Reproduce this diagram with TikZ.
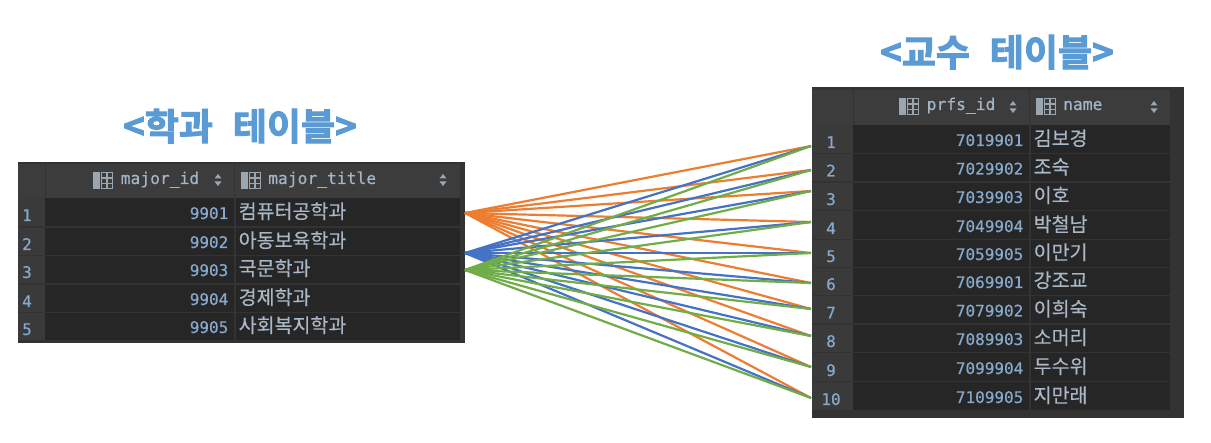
\documentclass[tikz,border=0pt]{standalone}
\usepackage{fontspec}
\setmainfont{Noto Sans CJK KR}
\newfontfamily\krfont[FakeBold=0.25]{Noto Sans CJK KR}
\newfontfamily\krbold[FakeBold=2.6]{Noto Sans CJK KR Bold}
\newfontfamily\monof[FakeBold=0.5]{DejaVu Sans Mono}
\definecolor{tblbg}{HTML}{333333}
\definecolor{hdrbg}{HTML}{3C3C3C}
\definecolor{gutbg}{HTML}{3A3A3A}
\definecolor{cellbg}{HTML}{262626}
\definecolor{idtxt}{HTML}{86A9CC}
\definecolor{krtxt}{HTML}{A9B7C6}
\definecolor{icon}{HTML}{9AA7B0}
\definecolor{titleblue}{HTML}{5B9BD5}
\definecolor{linkorange}{HTML}{ED7D31}
\definecolor{linkblue}{HTML}{4472C4}
\definecolor{linkgreen}{HTML}{70AD47}
\tikzset{
  idtext/.style={inner sep=0pt,anchor=base east,text=idtxt,font=\monof\fontsize{16}{16}\selectfont},
  numtext/.style={inner sep=0pt,anchor=base,text=idtxt,font=\monof\fontsize{16}{16}\selectfont},
  hdrtext/.style={inner sep=0pt,anchor=base west,text=krtxt!85!idtxt,font=\monof\fontsize{16.3}{16}\selectfont},
  krtext/.style={inner sep=0pt,anchor=base west,text=krtxt,font=\krfont\fontsize{19.5}{20}\selectfont},
  titletext/.style={inner sep=0pt,anchor=base,text=titleblue,font=\krbold\fontsize{37}{38}\selectfont},
  link/.style={line width=2.2pt},
  pt/.style={inner sep=0pt,minimum size=0pt}
}
% icon: x left, y top
\newcommand{\tblicon}[2]{%
  \fill[icon] (#1,#2) rectangle ++(7,17);
  \draw[icon,line width=1.2pt] (#1+8.5,#2+.6) rectangle ++(11,15.8)
     (#1+8.5,#2+6) -- ++(11,0) (#1+8.5,#2+11.5) -- ++(11,0) (#1+14,#2+.6) -- ++(0,15.8);
}
\newcommand{\sorticon}[2]{%
  \fill[icon] (#1-3.5,#2-1.5) -- (#1+3.5,#2-1.5) -- (#1,#2-6) -- cycle;
  \fill[icon] (#1-3.5,#2+1.5) -- (#1+3.5,#2+1.5) -- (#1,#2+6) -- cycle;
}
\newcommand{\dbrow}[6]{%
  \fill[gutbg] (\gutL,#1) rectangle (\gutR,#2);
  \fill[cellbg] (\gutR,#1) rectangle (\colM,#2);
  \fill[cellbg] (\colN,#1) rectangle (\colE,#2);
  \node[numtext] (#6n) at (\gutC,#2-5) {#3};
  \node[idtext] (#6i) at (\colM-5.5,#2-7) {#4};
  \node[krtext] (#6k) at (\colN+3,#2-7.5) {#5};
}
\begin{document}
\begin{tikzpicture}[x=1pt,y=-1pt]
\useasboundingbox (0,0) rectangle (1211,443);
\fill[white] (0,0) rectangle (1211,443);

% titles
\node[titletext] (title1) at (240,140) {<학과\hspace{20pt}테이블>};
\node[titletext] (title2) at (997,66) {<교수\hspace{20pt}테이블>};

% left table
\fill[tblbg] (18,162) rectangle (465,343);
\fill[hdrbg] (18,164) rectangle (460,198);
\draw[tblbg,line width=1pt] (45,164) -- (45,198) (234.5,164) -- (234.5,198);
\def\gutL{18}\def\gutR{45}\def\gutC{27}\def\colM{234}\def\colN{235.5}\def\colE{459.5}
\dbrow{198}{226}{1}{9901}{컴퓨터공학과}{a1}
\dbrow{228}{255}{2}{9902}{아동보육학과}{a2}
\dbrow{256.5}{283}{3}{9903}{국문학과}{a3}
\dbrow{285}{312}{4}{9904}{경제학과}{a4}
\dbrow{313.5}{340}{5}{9905}{사회복지학과}{a5}
\tblicon{93}{172}
\node[hdrtext] (ah1) at (120.5,184) {major\_id};
\sorticon{218}{180}
\tblicon{241}{172}
\node[hdrtext] (ah2) at (268,184) {major\_title};
\sorticon{443}{180}

% right table
\fill[tblbg] (812,87) rectangle (1184,418);
\fill[hdrbg] (812,90) rectangle (1170,125);
\draw[tblbg,line width=1pt] (853,90) -- (853,125) (1029.5,90) -- (1029.5,125);
\def\gutL{812}\def\gutR{853}\def\gutC{831}\def\colM{1029}\def\colN{1030.5}\def\colE{1170}
\dbrow{125}{153}{1}{7019901}{김보경}{b1}
\dbrow{154}{181.5}{2}{7029902}{조숙}{b2}
\dbrow{183}{210}{3}{7039903}{이호}{b3}
\dbrow{211.5}{239}{4}{7049904}{박철남}{b4}
\dbrow{240}{267}{5}{7059905}{이만기}{b5}
\dbrow{268}{295}{6}{7069901}{강조교}{b6}
\dbrow{296.5}{323.5}{7}{7079902}{이희숙}{b7}
\dbrow{325}{352}{8}{7089903}{소머리}{b8}
\dbrow{353.5}{381}{9}{7099904}{두수위}{b9}
\dbrow{382.5}{410}{10}{7109905}{지만래}{b10}
\tblicon{899}{98}
\node[hdrtext] (bh1) at (926.5,110) {prfs\_id};
\sorticon{1013}{107}
\tblicon{1036}{98}
\node[hdrtext] (bh2) at (1063,110) {name};
\sorticon{1154}{107}

% connector anchors
\coordinate (lo) at (465,213);
\coordinate (lb) at (465,253);
\coordinate (lg) at (465,270);
\coordinate (r1) at (811,146);
\coordinate (r2) at (811,170);
\coordinate (r3) at (811,191);
\coordinate (r4) at (811,222);
\coordinate (r5) at (811,253);
\coordinate (r6) at (811,283);
\coordinate (r7) at (811,309);
\coordinate (r8) at (811,336);
\coordinate (r9) at (811,367);
\coordinate (r10) at (811,398);

\foreach \i in {1,...,10} \draw[link,linkorange] (lo) -- (r\i);
\foreach \i in {1,...,10} \draw[link,linkblue] (lb) -- (r\i);
\foreach \i in {1,...,10} \draw[link,linkgreen] (lg) -- (r\i);
\end{tikzpicture}
\end{document}
